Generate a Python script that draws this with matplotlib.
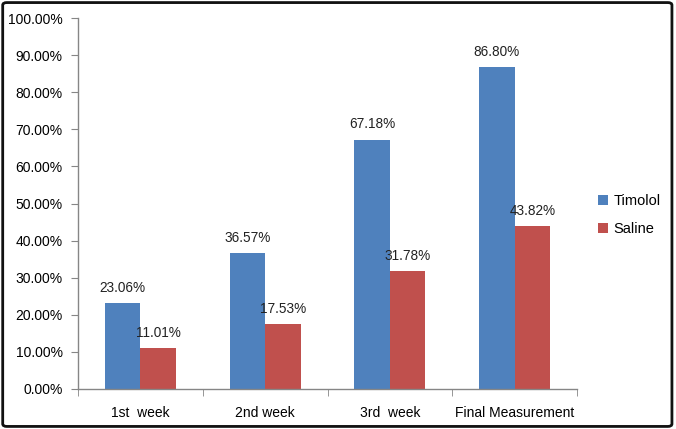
import numpy as np
import matplotlib.pyplot as plt
from matplotlib.patches import FancyBboxPatch
from matplotlib.ticker import FuncFormatter

categories = ['1st  week', '2nd week', '3rd  week', 'Final Measurement']
timolol = [23.06, 36.57, 67.18, 86.80]
saline = [11.01, 17.53, 31.78, 43.82]

plt.rcParams['font.family'] = ['Liberation Sans', 'DejaVu Sans']

fig = plt.figure(figsize=(6.76, 4.29), dpi=100)
W, H = 676, 429
ax = fig.add_axes([78 / W, 1 - 389 / H, (577 - 78) / W, (389 - 18) / H])

x = np.arange(len(categories))
bw = 0.285
b1 = ax.bar(x - bw / 2, timolol, bw, color='#4F81BD', label='Timolol')
b2 = ax.bar(x + bw / 2, saline, bw, color='#C0504D', label='Saline')

for bars, vals in ((b1, timolol), (b2, saline)):
    for rect, v in zip(bars, vals):
        ax.annotate('%.2f%%' % v, (rect.get_x() + rect.get_width() / 2, v),
                    xytext=(0, 6), textcoords='offset points',
                    ha='center', va='bottom', fontsize=9.8, color='#222222')

ax.set_xlim(-0.5, len(categories) - 0.5)
ax.set_ylim(0, 100)
ax.set_yticks(np.arange(0, 101, 10))
ax.yaxis.set_major_formatter(FuncFormatter(lambda v, p: '%.2f%%' % v))

ax.set_xticks(x)
ax.set_xticklabels(categories)
ax.set_xticks(np.arange(-0.5, len(categories)), minor=True)
ax.tick_params(axis='x', which='major', length=0, pad=12, labelsize=10)
ax.tick_params(axis='x', which='minor', length=5, color='#868686', direction='out')
ax.tick_params(axis='y', length=5, color='#868686', pad=6, labelsize=10)

for s in ('top', 'right'):
    ax.spines[s].set_visible(False)
for s in ('left', 'bottom'):
    ax.spines[s].set_color('#868686')
    ax.spines[s].set_linewidth(1.0)

leg = fig.legend(handles=[b1, b2], labels=['Timolol', 'Saline'],
                 loc='center left', bbox_to_anchor=(585 / W, 1 - 215 / H),
                 frameon=False, fontsize=10.5, handlelength=0.7, handleheight=0.7,
                 handletextpad=0.35, labelspacing=0.95)

border = FancyBboxPatch((0.004, 0.006), 0.99, 0.988, transform=fig.transFigure,
                        boxstyle='round,pad=0,rounding_size=0.006',
                        fill=False, edgecolor='#111111', linewidth=2.0)
fig.patches.append(border)

fig.savefig('out.png', dpi=100)
